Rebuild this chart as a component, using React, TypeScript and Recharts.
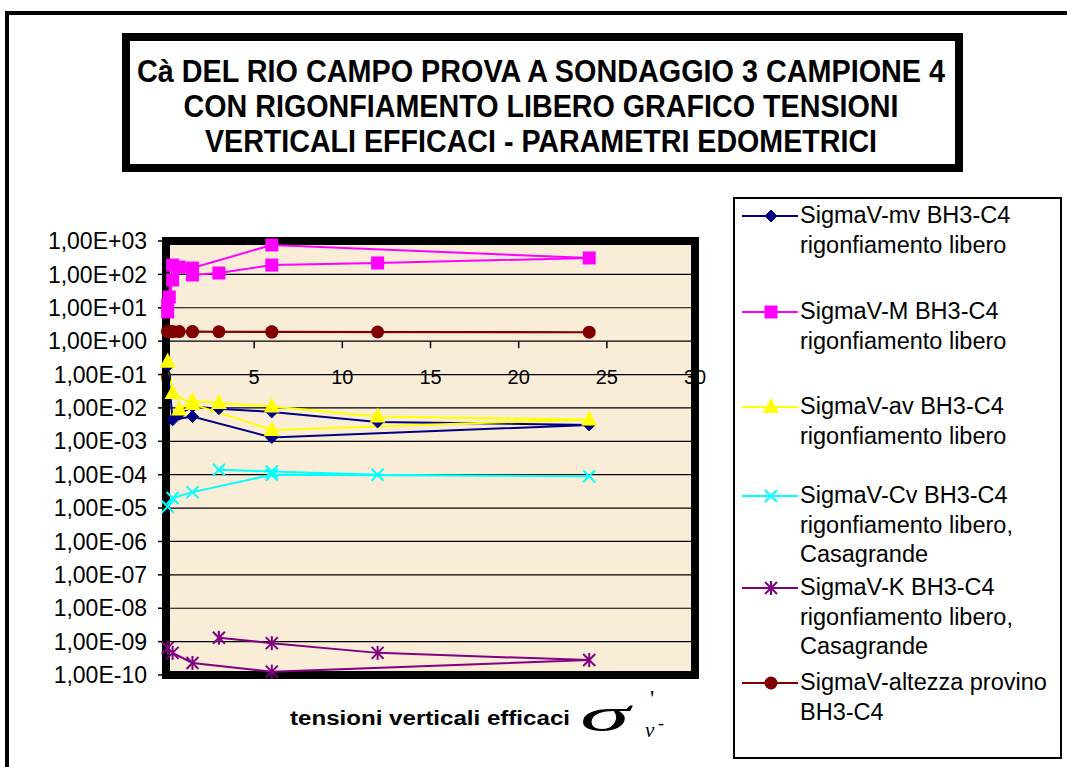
import React from "react";
import { LineChart, Line, XAxis, YAxis, CartesianGrid, ReferenceArea } from "recharts";

// ---------- data ----------
// stress path: loading then unloading (kg/cm2)
const stressPath = [0.094, 0.1875, 0.375, 0.75, 1.5, 3, 6, 12, 24, 6, 1.5, 0.375, 0.094];
const mvValues = [null, null, null, 0.0065, 0.011, 0.0095, 0.0076, 0.0038, 0.0031, 0.0013, 0.0055, 0.0044, 0.18];
const mValues = [7.5, 21, 68, 165, 96, 110, 190, 220, 310, 760, 155, 190, 12];
const avValues = [null, null, null, 0.009, 0.016, 0.014, 0.011, 0.0055, 0.0045, 0.0022, 0.013, 0.028, 0.24];
const cvValues = [null, null, null, null, null, 1.4e-4, 1.25e-4, 1.0e-4, 9e-5, 1.0e-4, 3.0e-5, 2.0e-5, 1.1e-5];
const kValues = [null, null, null, null, null, 1.3e-9, 9e-10, 4.6e-10, 2.8e-10, 1.26e-10, 2.3e-10, 4.6e-10, 6.5e-10];
const hValues = [1.95, 1.95, 1.95, 1.94, 1.93, 1.92, 1.9, 1.88, 1.86, 1.87, 1.9, 1.92, 1.95];

const xTicks = [0, 5, 10, 15, 20, 25, 30];
const yTicks = [1e-10, 1e-9, 1e-8, 1e-7, 1e-6, 1e-5, 1e-4, 1e-3, 1e-2, 1e-1, 1, 10, 100, 1000];

const titleLines = [
  "Cà DEL RIO CAMPO PROVA A SONDAGGIO 3 CAMPIONE 4",
  "CON RIGONFIAMENTO LIBERO GRAFICO TENSIONI",
  "VERTICALI EFFICACI - PARAMETRI EDOMETRICI",
];

const seriesKeys = ["mv", "M", "av", "cv", "k", "h"];
const seriesNames = [
  ["SigmaV-mv BH3-C4", "rigonfiamento libero"],
  ["SigmaV-M BH3-C4", "rigonfiamento libero"],
  ["SigmaV-av BH3-C4", "rigonfiamento libero"],
  ["SigmaV-Cv BH3-C4", "rigonfiamento libero,", "Casagrande"],
  ["SigmaV-K BH3-C4", "rigonfiamento libero,", "Casagrande"],
  ["SigmaV-altezza provino", "BH3-C4"],
];
const seriesColors = ["#000080", "#FF00FF", "#FFFF00", "#00FFFF", "#800080", "#800000"];
const seriesShapes = ["diamond", "square", "triangle", "x", "star", "circle"];

const data = stressPath.map((s, i) => ({
  s,
  mv: mvValues[i],
  M: mValues[i],
  av: avValues[i],
  cv: cvValues[i],
  k: kValues[i],
  h: hValues[i],
}));

// ---------- layout ----------
const W = 1067;
const H = 767;
const PLOT_LEFT = 166;
const PLOT_RIGHT = 695;
const PLOT_TOP = 241;
const PLOT_BOTTOM = 675;
const Y_MIN_EXP = -10;
const Y_MAX_EXP = 3;
const AXIS_Y = PLOT_TOP + ((PLOT_BOTTOM - PLOT_TOP) * (Y_MAX_EXP - 0)) / (Y_MAX_EXP - Y_MIN_EXP);
const FONT = '"Liberation Sans", Arial, sans-serif';

function Marker({ shape, cx, cy, color }: { shape: string; cx: number; cy: number; color: string }) {
  switch (shape) {
    case "diamond":
      return <polygon points={`${cx},${cy - 6} ${cx + 6},${cy} ${cx},${cy + 6} ${cx - 6},${cy}`} fill={color} stroke={color} />;
    case "square":
      return <rect x={cx - 6.5} y={cy - 6.5} width={13} height={13} fill={color} />;
    case "triangle":
      return <polygon points={`${cx},${cy - 9} ${cx + 8},${cy + 6} ${cx - 8},${cy + 6}`} fill={color} />;
    case "x":
      return (
        <g stroke={color} strokeWidth={2}>
          <line x1={cx - 6} y1={cy - 6} x2={cx + 6} y2={cy + 6} />
          <line x1={cx - 6} y1={cy + 6} x2={cx + 6} y2={cy - 6} />
        </g>
      );
    case "star":
      return (
        <g stroke={color} strokeWidth={2}>
          <line x1={cx - 6} y1={cy - 6} x2={cx + 6} y2={cy + 6} />
          <line x1={cx - 6} y1={cy + 6} x2={cx + 6} y2={cy - 6} />
          <line x1={cx} y1={cy - 7} x2={cx} y2={cy + 7} />
        </g>
      );
    default:
      return <circle cx={cx} cy={cy} r={6.5} fill={color} />;
  }
}

function makeDot(shape: string, color: string) {
  return (props: any) => {
    const { cx, cy, index, value } = props;
    if (cx == null || cy == null || value == null || Number.isNaN(cy)) return <g key={`d${index}`} />;
    return (
      <g key={`d${index}`}>
        <Marker shape={shape} cx={cx} cy={cy} color={color} />
      </g>
    );
  };
}

function fmtExp(v: number) {
  const e = Math.round(Math.log10(v));
  const a = Math.abs(e);
  return `1,00E${e >= 0 ? "+" : "-"}${a < 10 ? "0" + a : a}`;
}

function renderXTick(props: any) {
  const { x, payload, index } = props;
  return (
    <g key={`xt${index}`}>
      <line x1={x} x2={x} y1={AXIS_Y} y2={AXIS_Y + 7} stroke="#000" strokeWidth={1.5} />
      <text x={x} y={AXIS_Y + 43} textAnchor="middle" fontSize={20} fontFamily={FONT} fill="#000">
        {payload.value}
      </text>
    </g>
  );
}

function Legend() {
  const entryTops = [216, 312, 407, 496, 588, 683];
  return (
    <div
      style={{
        position: "absolute",
        left: 733,
        top: 197,
        width: 325,
        height: 558,
        border: "2px solid #000",
        background: "#fff",
        boxSizing: "content-box",
      }}
    >
      {seriesNames.map((lines, i) => (
        <div key={i} style={{ position: "absolute", left: 0, top: entryTops[i] - 197 - 2 - 14 }}>
          <svg width={60} height={28} style={{ position: "absolute", left: 5, top: 0 }}>
            <line x1={2} x2={58} y1={14} y2={14} stroke={seriesColors[i]} strokeWidth={2} />
            <Marker shape={seriesShapes[i]} cx={31} cy={14} color={seriesColors[i]} />
          </svg>
          <div
            style={{
              position: "absolute",
              left: 65,
              top: -1,
              width: 260,
              fontFamily: FONT,
              fontSize: 23.5,
              lineHeight: "29.5px",
              color: "#000",
              whiteSpace: "nowrap",
            }}
          >
            {lines.map((l, j) => (
              <div key={j}>{l}</div>
            ))}
          </div>
        </div>
      ))}
    </div>
  );
}

export default function App() {
  return (
    <div style={{ position: "absolute", left: 0, top: 0, width: W, height: H, overflow: "hidden", background: "#fff" }}>
      {/* outer frame */}
      <div style={{ position: "absolute", left: 5, top: 11, width: 1200, height: 900, border: "4px solid #000" }} />
      {/* title */}
      <svg width={W} height={200} style={{ position: "absolute", left: 0, top: 0 }}>
        <rect x={126} y={37} width={833} height={131} fill="#fff" stroke="#000" strokeWidth={8} />
        {titleLines.map((t, i) => (
          <text
            key={i}
            x={541}
            y={82 + i * 35}
            textAnchor="middle"
            fontFamily='"Liberation Sans Narrow", "Arial Narrow", "Liberation Sans", Arial, sans-serif'
            fontWeight="bold"
            fontSize={32}
            textLength={[808, 715, 672][i]}
            lengthAdjust="spacingAndGlyphs"
            fill="#000"
          >
            {t}
          </text>
        ))}
      </svg>
      {/* plot background */}
      <div
        style={{
          position: "absolute",
          left: PLOT_LEFT,
          top: PLOT_TOP,
          width: PLOT_RIGHT - PLOT_LEFT,
          height: PLOT_BOTTOM - PLOT_TOP,
          background: "#F9EDD8",
        }}
      />
      <div style={{ position: "absolute", left: 0, top: 0 }}>
        <LineChart
          width={W}
          height={H}
          data={data}
          margin={{ top: PLOT_TOP, right: W - PLOT_RIGHT, bottom: H - PLOT_BOTTOM - 1, left: 0 }}
        >
          <CartesianGrid vertical={false} stroke="#000" strokeWidth={1.2} />
          <XAxis
            type="number"
            dataKey="s"
            domain={[0, 30]}
            ticks={xTicks}
            height={1}
            axisLine={false}
            tickLine={false}
            tick={renderXTick}
            interval={0}
          />
          <YAxis
            scale="log"
            type="number"
            domain={[1e-10, 1e3]}
            ticks={yTicks}
            width={PLOT_LEFT}
            tickFormatter={fmtExp}
            tickSize={8}
            tickMargin={11}
            axisLine={false}
            tickLine={{ stroke: "#000", strokeWidth: 1.5 }}
            tick={{ fontSize: 23, fontFamily: FONT, fill: "#000" }}
            interval={0}
          />
          <ReferenceArea
            x1={0}
            x2={30}
            y1={1e-10}
            y2={1e3}
            fill="none"
            stroke="#000"
            strokeWidth={8}
            strokeOpacity={1}
            ifOverflow="visible"
          />
          {seriesKeys.map((k, i) => (
            <Line
              key={k}
              dataKey={k}
              stroke={seriesColors[i]}
              strokeWidth={2}
              connectNulls
              isAnimationActive={false}
              dot={makeDot(seriesShapes[i], seriesColors[i])}
              activeDot={false}
            />
          ))}
        </LineChart>
      </div>
      {/* x axis title */}
      <svg width={W} height={H} style={{ position: "absolute", left: 0, top: 0, pointerEvents: "none" }}>
        <text x={290} y={725} fontFamily={FONT} fontWeight="bold" fontSize={20} textLength={280} lengthAdjust="spacingAndGlyphs" fill="#000">
          tensioni verticali efficaci
        </text>
        <text
          x={0}
          y={0}
          fontFamily='"Liberation Serif", "Times New Roman", serif'
          fontStyle="italic"
          fontSize={48}
          fill="#000"
          transform="translate(580,731) scale(2.1,1)"
        >
          σ
        </text>
        <text x={650} y={706} fontFamily='"Liberation Serif", serif' fontSize={24} fill="#000">'</text>
        <text x={645} y={737} fontFamily='"Liberation Serif", serif' fontStyle="italic" fontSize={21} fill="#000">v</text>
        <text x={658} y={729} fontFamily='"Liberation Serif", serif' fontSize={18} fill="#000">-</text>
      </svg>
      <Legend />
    </div>
  );
}
